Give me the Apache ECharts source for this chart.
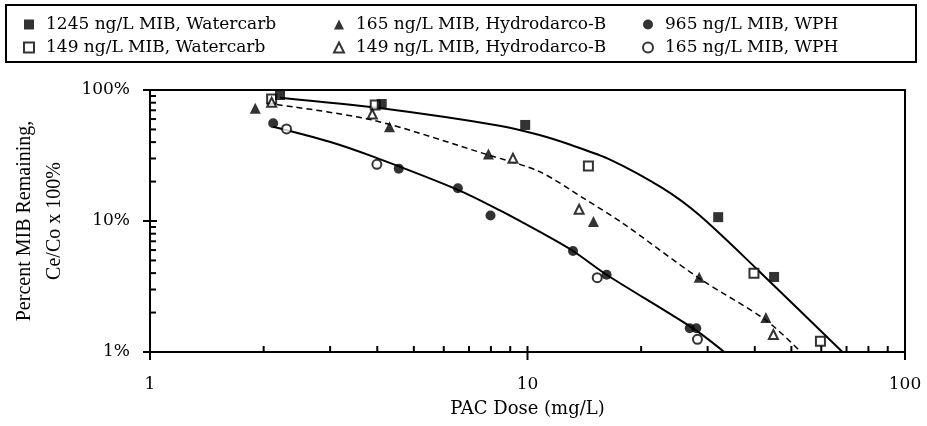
<!DOCTYPE html>
<html>
<head>
<meta charset="utf-8">
<script src="https://cdn.jsdelivr.net/npm/echarts@6/dist/echarts.min.js"></script>
<style>
  html, body { margin: 0; padding: 0; background: #fff; }
  #chart { width: 927px; height: 426px; }
</style>
</head>
<body>
<div id="chart"></div>
<script>
// measured points, PAC dose (mg/L) vs percent remaining
var wc1245X = [2.21, 4.11, 9.86, 32.0, 45.0];
var wc1245Y = [91.6, 78.2, 54.1, 10.7, 3.74];
var wc149X = [2.10, 3.95, 14.5, 39.8, 59.7];
var wc149Y = [85.3, 76.8, 26.3, 4.0, 1.21];
var hd165X = [1.90, 4.31, 7.88, 14.95, 28.5, 42.8];
var hd165Y = [72.5, 52.5, 32.5, 9.9, 3.72, 1.83];
var hd149X = [2.1, 3.88, 9.15, 13.7, 44.8];
var hd149Y = [80.6, 65.6, 30.1, 12.3, 1.36];
var wph965X = [2.12, 4.56, 6.54, 7.98, 13.2, 16.2, 26.9, 28.0];
var wph965Y = [55.7, 25.1, 17.8, 11.0, 5.9, 3.89, 1.52, 1.52];
var wph165X = [2.30, 3.99, 15.3, 28.2];
var wph165Y = [50.4, 27.1, 3.69, 1.25];

// fitted curves
var fitWcX = [2.21, 4.10, 8.43, 10.76, 13.05, 16.65, 22.8, 28.5, 40.3, 68.3];
var fitWcY = [87.3, 72.5, 53.4, 45.3, 38.0, 29.2, 17.8, 11.1, 4.36, 1.0];
var fitHdX = [2.04, 3.88, 7.88, 10.76, 14.3, 17.9, 28.5, 42.8, 53.0];
var fitHdY = [79.1, 59.0, 31.9, 23.8, 14.5, 9.6, 3.65, 1.75, 1.0];
var fitWphX = [2.12, 2.99, 3.90, 6.54, 8.43, 10.76, 13.2, 16.2, 27.4, 33.2];
var fitWphY = [52.5, 40.3, 31.0, 17.3, 12.1, 8.28, 5.9, 3.89, 1.52, 1.0];

// tick values on both log axes
var majorTicks = [1, 10, 100];
var minorTicks = [2, 3, 4, 5, 6, 7, 8, 9, 20, 30, 40, 50, 60, 70, 80, 90];

var serif = "DejaVu Serif";

function pairs(xs, ys) {
  return xs.map(function (x, i) { return [x, ys[i]]; });
}

// [x, y, kind] kind: 0 x-minor, 1 x-major, 2 y-minor, 3 y-major
var tickData = [];
minorTicks.forEach(function (v) { tickData.push([v, 1, 0]); tickData.push([1, v, 2]); });
majorTicks.forEach(function (v) { tickData.push([v, 1, 1]); tickData.push([1, v, 3]); });

function renderTick(params, api) {
  var p = api.coord([api.value(0), api.value(1)]);
  var kind = api.value(2);
  var s;
  if (kind === 0) s = { x1: p[0], y1: p[1], x2: p[0], y2: p[1] - 6 };
  else if (kind === 1) s = { x1: p[0], y1: p[1] + 8, x2: p[0], y2: p[1] - 6 };
  else if (kind === 2) s = { x1: p[0], y1: p[1], x2: p[0] + 6, y2: p[1] };
  else s = { x1: p[0] - 7, y1: p[1], x2: p[0] + 7, y2: p[1] };
  return { type: 'line', shape: s, style: { stroke: '#000', lineWidth: 2 } };
}

var filled = { color: '#000' };
var hollow = { color: '#fff', borderColor: '#000', borderWidth: 2 };

function legendCol(left, names) {
  return {
    left: left, top: 11, orient: 'vertical', itemGap: 6, itemWidth: 10, itemHeight: 10,
    textStyle: { fontFamily: serif, fontSize: 17, color: '#000', padding: [0, 0, 0, 7] },
    data: names
  };
}

var chart = echarts.init(document.getElementById('chart'));

var option = {
  animation: false,
  backgroundColor: '#fff',
  textStyle: { fontFamily: serif, color: '#000' },
  grid: {
    left: 150, right: 22, top: 90, bottom: 74,
    show: true, borderColor: '#000', borderWidth: 2
  },
  graphic: [{
    type: 'rect',
    shape: { x: 6, y: 5, width: 910, height: 57 },
    style: { fill: 'none', stroke: '#000', lineWidth: 2 }
  }],
  legend: [
    legendCol(18, ['1245 ng/L MIB, Watercarb', '149 ng/L MIB, Watercarb']),
    legendCol(328, ['165 ng/L MIB, Hydrodarco-B', '149 ng/L MIB, Hydrodarco-B']),
    legendCol(637, ['965 ng/L MIB, WPH', '165 ng/L MIB, WPH'])
  ],
  xAxis: {
    type: 'log', logBase: 10, min: 1, max: 100,
    name: 'PAC Dose (mg/L)', nameLocation: 'middle', nameGap: 48,
    nameTextStyle: { fontFamily: serif, fontSize: 18, color: '#000' },
    axisLine: { lineStyle: { color: '#000', width: 2 } },
    axisTick: { show: false },
    splitLine: { show: false },
    axisLabel: { fontFamily: serif, fontSize: 17, color: '#000', margin: 24 }
  },
  yAxis: {
    type: 'log', logBase: 10, min: 1, max: 100,
    name: 'Percent MIB Remaining,\nCe/Co x 100%', nameLocation: 'middle', nameGap: 80,
    nameRotate: 90,
    nameTextStyle: { fontFamily: 'Liberation Serif', fontSize: 20, color: '#000', lineHeight: 30 },
    axisLine: { lineStyle: { color: '#000', width: 2 } },
    axisTick: { show: false },
    splitLine: { show: false },
    axisLabel: { fontFamily: serif, fontSize: 17, color: '#000', margin: 20,
      formatter: function (v) { return v + '%'; } }
  },
  series: [
    { name: 'fitWc', type: 'line', data: pairs(fitWcX, fitWcY), showSymbol: false, smooth: 0.3,
      lineStyle: { color: '#000', width: 2 }, silent: true, z: 1 },
    { name: 'fitHd', type: 'line', data: pairs(fitHdX, fitHdY), showSymbol: false, smooth: 0.3,
      lineStyle: { color: '#000', width: 1.5, type: [6, 4] }, silent: true, z: 1 },
    { name: 'fitWph', type: 'line', data: pairs(fitWphX, fitWphY), showSymbol: false, smooth: 0.3,
      lineStyle: { color: '#000', width: 2 }, silent: true, z: 1 },
    { name: '1245 ng/L MIB, Watercarb', type: 'scatter', symbol: 'rect', symbolSize: 10,
      data: pairs(wc1245X, wc1245Y), itemStyle: filled, z: 3 },
    { name: '149 ng/L MIB, Watercarb', type: 'scatter', symbol: 'rect', symbolSize: 9,
      data: pairs(wc149X, wc149Y), itemStyle: hollow, z: 2 },
    { name: '165 ng/L MIB, Hydrodarco-B', type: 'scatter', symbol: 'triangle', symbolSize: 11,
      data: pairs(hd165X, hd165Y), itemStyle: filled, z: 3 },
    { name: '149 ng/L MIB, Hydrodarco-B', type: 'scatter', symbol: 'triangle', symbolSize: 9,
      data: pairs(hd149X, hd149Y), itemStyle: hollow, z: 2 },
    { name: '965 ng/L MIB, WPH', type: 'scatter', symbol: 'circle', symbolSize: 10,
      data: pairs(wph965X, wph965Y), itemStyle: filled, z: 3 },
    { name: '165 ng/L MIB, WPH', type: 'scatter', symbol: 'circle', symbolSize: 9,
      data: pairs(wph165X, wph165Y), itemStyle: hollow, z: 2 },
    { name: 'ticks', type: 'custom', data: tickData, renderItem: renderTick,
      clip: false, silent: true, z: 4 }
  ]
};

chart.setOption(option);
</script>
</body>
</html>
